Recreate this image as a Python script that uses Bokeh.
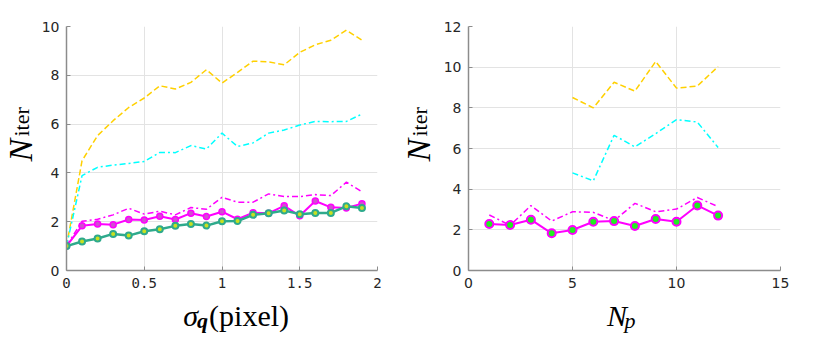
import math
from bokeh.plotting import figure
from bokeh.layouts import row, column
from bokeh.models import Range1d, FixedTicker
from bokeh.core.properties import value
from bokeh.embed import file_html
from bokeh.resources import INLINE

# ---- left panel data: N_iter vs sigma_q (pixel)
sigma = [0.0, 0.1, 0.2, 0.3, 0.4, 0.5, 0.6, 0.7, 0.8, 0.9, 1.0,
         1.1, 1.2, 1.3, 1.4, 1.5, 1.6, 1.7, 1.8, 1.9]
left_yellow = [1.0, 4.5, 5.53, 6.14, 6.68, 7.07, 7.57, 7.44, 7.71, 8.23, 7.68,
               8.12, 8.58, 8.55, 8.43, 8.94, 9.25, 9.44, 9.85, 9.44]
left_cyan = [1.0, 3.89, 4.23, 4.32, 4.39, 4.47, 4.84, 4.83, 5.12, 4.98, 5.63,
             5.08, 5.23, 5.63, 5.76, 5.96, 6.11, 6.10, 6.11, 6.41]
left_magenta_dash = [1.0, 2.02, 2.10, 2.28, 2.55, 2.31, 2.43, 2.28, 2.58, 2.51, 3.00,
                     2.80, 2.80, 3.14, 3.03, 3.03, 3.11, 3.07, 3.62, 3.23]
left_magenta = [1.0, 1.83, 1.91, 1.88, 2.09, 2.07, 2.22, 2.09, 2.35, 2.21, 2.41,
                2.10, 2.37, 2.35, 2.65, 2.24, 2.85, 2.59, 2.56, 2.74]
left_teal = [1.0, 1.19, 1.31, 1.50, 1.43, 1.61, 1.69, 1.83, 1.91, 1.84, 2.02,
             2.03, 2.28, 2.35, 2.46, 2.31, 2.36, 2.36, 2.63, 2.56]

# ---- right panel data: N_iter vs N_p
np_all = [1, 2, 3, 4, 5, 6, 7, 8, 9, 10, 11, 12]
np_sub = [5, 6, 7, 8, 9, 10, 11, 12]
right_yellow = [8.51, 8.0, 9.26, 8.82, 10.28, 8.97, 9.07, 10.03]
right_cyan = [4.80, 4.41, 6.65, 6.08, 6.73, 7.42, 7.30, 6.05]
right_magenta_dash = [2.73, 2.22, 3.19, 2.43, 2.89, 2.86, 2.45, 3.30, 2.89, 3.02, 3.59, 3.14]
right_magenta = [2.29, 2.24, 2.50, 1.83, 1.99, 2.40, 2.43, 2.19, 2.53, 2.40, 3.20, 2.70]

left_xticks = [0, 0.5, 1, 1.5, 2]
left_yticks = [0, 2, 4, 6, 8, 10]
right_xticks = [0, 5, 10, 15]
right_yticks = [0, 2, 4, 6, 8, 10, 12]

YELLOW = "#FFD000"
CYAN = "#00FFFF"
MAGENTA = "#FF00FF"
TEAL = "#2EAA8C"
SERIF = "Liberation Serif"

FRAME_H = 244
TOP = 26
BOTTOM = 26
FIG_H = TOP + FRAME_H + BOTTOM
XLAB_H = 42


def style(p, xticks, yticks, xfont):
    p.xaxis.ticker = FixedTicker(ticks=xticks)
    p.yaxis.ticker = FixedTicker(ticks=yticks)
    p.outline_line_color = None
    for ax in (p.xaxis[0], p.yaxis[0]):
        ax.axis_line_color = "#8c8c8c"
        ax.axis_line_width = 1.5
        ax.major_tick_line_color = "#8c8c8c"
        ax.major_tick_in = 4
        ax.major_tick_out = 0
        ax.minor_tick_line_color = None
        ax.major_label_text_color = "#262626"
        ax.major_label_text_font_size = "14px"
        ax.major_label_standoff = 7
    p.xaxis.major_label_text_font = xfont
    p.yaxis.major_label_text_font = "DejaVu Sans"
    p.grid.grid_line_color = "#e3e3e3"
    p.grid.grid_line_width = 1


def label_fig(w, h):
    f = figure(width=w, height=h, x_range=Range1d(0, w), y_range=Range1d(0, h),
               x_axis_type=None, y_axis_type=None, min_border=0,
               output_backend="svg", toolbar_location=None)
    f.outline_line_color = None
    f.grid.visible = False
    return f


def put(f, x, y, text, size, style="normal", angle=0.0):
    f.text(x=[x], y=[y], text=[text], text_font=value(SERIF), text_font_size=value(size),
           text_font_style=style, angle=angle, text_baseline="alphabetic",
           text_align="left", text_color="black")


# ---------------- left panel
left = figure(frame_width=311, frame_height=FRAME_H, min_border_left=28, min_border_top=TOP,
              min_border_right=23, min_border_bottom=BOTTOM,
              x_range=Range1d(0, 2), y_range=Range1d(0, 10),
              output_backend="svg", toolbar_location=None)
style(left, left_xticks, left_yticks, "DejaVu Sans Mono")

left.line(sigma, left_yellow, line_color=YELLOW, line_width=1.5, line_dash="6 3")
left.line(sigma, left_cyan, line_color=CYAN, line_width=1.5, line_dash="6 3 2 3")
left.line(sigma, left_magenta_dash, line_color=MAGENTA, line_width=1.5, line_dash="6 3 2 3")
left.line(sigma, left_magenta, line_color=MAGENTA, line_width=2)
left.scatter(sigma, left_magenta, size=6, fill_color="#D050D0", line_color=MAGENTA, line_width=1.5)
left.line(sigma, left_teal, line_color=TEAL, line_width=2.5)
left.scatter(sigma, left_teal, size=6, fill_color="#C8E020", line_color=TEAL, line_width=2)

# ---------------- right panel
right = figure(frame_width=312, frame_height=FRAME_H, min_border_left=30, min_border_top=TOP,
               min_border_right=30, min_border_bottom=BOTTOM,
               x_range=Range1d(0, 15), y_range=Range1d(0, 12),
               output_backend="svg", toolbar_location=None)
style(right, right_xticks, right_yticks, "DejaVu Sans")

right.line(np_sub, right_yellow, line_color=YELLOW, line_width=1.5, line_dash="6 3")
right.line(np_sub, right_cyan, line_color=CYAN, line_width=1.5, line_dash="6 3 2 3")
right.line(np_all, right_magenta_dash, line_color=MAGENTA, line_width=1.5, line_dash="6 3 2 3")
right.line(np_all, right_magenta, line_color=MAGENTA, line_width=2)
right.scatter(np_all, right_magenta, size=8, fill_color="#22EE22", line_color=MAGENTA, line_width=2)

# ---------------- axis-label panels (real text)
yl_left = label_fig(38, FIG_H)
put(yl_left, 20, 135, "N", "34px", "italic", math.pi / 2)
put(yl_left, 21, 160, "iter", "22px", "normal", math.pi / 2)

yl_right = label_fig(38, FIG_H)
put(yl_right, 18, 135, "N", "34px", "italic", math.pi / 2)
put(yl_right, 19, 160, "iter", "22px", "normal", math.pi / 2)

xl_left = label_fig(28 + 311 + 23, XLAB_H)
put(xl_left, 136, 23, "σ", "30px", "italic")
put(xl_left, 152, 18, "q", "22px", "bold italic")
put(xl_left, 166, 23, "(pixel)", "30px", "normal")

xl_right = label_fig(30 + 312 + 30, XLAB_H)
put(xl_right, 165, 23, "N", "30px", "italic")
put(xl_right, 186, 18, "p", "22px", "italic")

layout = row(yl_left, column(left, xl_left), yl_right, column(right, xl_right))
open("out.html", "w").write(file_html(layout, INLINE))
